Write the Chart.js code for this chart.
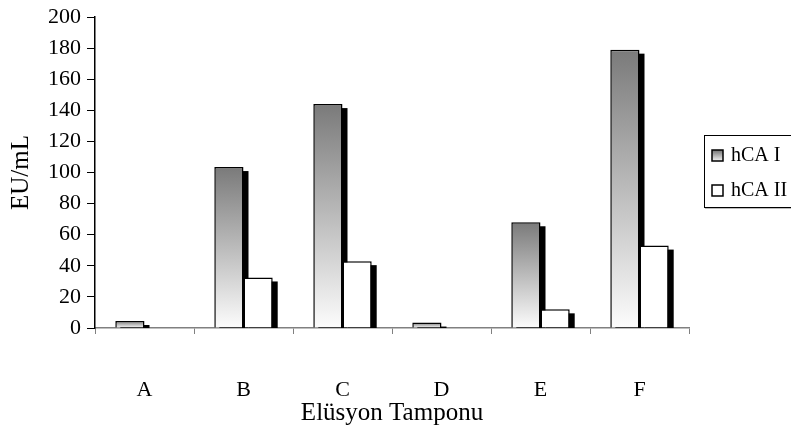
<!DOCTYPE html>
<html>
<head>
<meta charset="utf-8">
<script src="https://cdn.jsdelivr.net/npm/chart.js@4/dist/chart.umd.min.js"></script>
<style>
  html, body { margin: 0; padding: 0; background: #fff; }
  #wrap { width: 791px; height: 433px; }
</style>
</head>
<body>
<div id="wrap"><canvas id="chart"></canvas></div>
<script>
// ── data ──────────────────────────────────────────────
const categories = ['A', 'B', 'C', 'D', 'E', 'F'];
const seriesNames = ['hCA I', 'hCA II'];
const hcaI = [4.5, 103.5, 144, 3.5, 68, 179];
const hcaII = [0, 32.5, 43, 0, 12, 53];

const FONT = 'Liberation Serif';

// vertical grey-to-white gradient, one per bar
function barGradient(ctx) {
    const chart = ctx.chart;
    const y = chart.scales && chart.scales.y;
    if (!y || !chart.chartArea) return '#999';
    const top = y.getPixelForValue(ctx.raw || 0);
    const base = y.getPixelForValue(0);
    if (base - top < 1) return '#bbb';
    const g = chart.ctx.createLinearGradient(0, top, 0, base);
    g.addColorStop(0, '#7a7a7a');
    g.addColorStop(1, '#fcfcfc');
    return g;
}

// ── black drop shadow behind each bar ─────────────────
const shadowPlugin = {
    id: 'barShadow',
    beforeDatasetsDraw(chart) {
        const c = chart.ctx;
        const base = chart.scales.y.getPixelForValue(0);
        c.save();
        c.fillStyle = '#000';
        chart.data.datasets.forEach((ds, i) => {
            chart.getDatasetMeta(i).data.forEach((bar, j) => {
                if (!ds.data[j]) return;
                const p = bar.getProps(['x', 'y', 'width'], true);
                const off = 5;
                const left = p.x - p.width / 2 + off;
                const top = Math.min(p.y + off - 1, base);
                c.fillRect(left, top, p.width, base - top);
            });
        });
        c.restore();
    }
};

// ── legend box on the right ───────────────────────────
const legendPlugin = {
    id: 'boxLegend',
    afterDraw(chart) {
        const c = chart.ctx;
        const x0 = 704, y0 = 135, w = 95, h = 72;
        c.save();
        c.fillStyle = '#fff';
        c.fillRect(x0, y0, w, h);
        c.strokeStyle = '#000';
        c.lineWidth = 1;
        c.strokeRect(x0 + 0.5, y0 + 0.5, w, h);
        c.strokeStyle = '#bbb';
        c.beginPath();
        c.moveTo(x0 + 1, y0 + h + 1.5);
        c.lineTo(x0 + w, y0 + h + 1.5);
        c.stroke();
        c.font = '20px "' + FONT + '"';
        c.textBaseline = 'middle';
        seriesNames.forEach((name, i) => {
            const cy = 155 + i * 35;
            const bx = 712, by = cy - 5, bs = 11;
            if (i === 0) {
                const g = c.createLinearGradient(0, by, 0, by + bs);
                g.addColorStop(0, '#727272');
                g.addColorStop(1, '#f4f4f4');
                c.fillStyle = g;
            } else {
                c.fillStyle = '#fff';
            }
            c.fillRect(bx, by, bs, bs);
            c.strokeStyle = '#000';
            c.lineWidth = 1.5;
            c.strokeRect(bx, by, bs, bs);
            c.fillStyle = '#000';
            c.fillText(name, 731, cy + 1);
        });
        c.restore();
    }
};

new Chart(document.getElementById('chart'), {
    type: 'bar',
    data: {
        labels: categories,
        datasets: [{
            label: seriesNames[0],
            data: hcaI,
            backgroundColor: barGradient,
            borderColor: '#000',
            borderWidth: ctx => (ctx.raw ? 1.5 : 0),
            barPercentage: 1,
            categoryPercentage: 0.59
        }, {
            label: seriesNames[1],
            data: hcaII,
            backgroundColor: '#fff',
            borderColor: '#000',
            borderWidth: ctx => (ctx.raw ? 1.5 : 0),
            barPercentage: 1,
            categoryPercentage: 0.59
        }]
    },
    options: {
        responsive: true,
        maintainAspectRatio: false,
        animation: false,
        layout: { padding: { top: 13, right: 102, left: 0, bottom: 0 } },
        plugins: {
            legend: { display: false },
            tooltip: { enabled: false }
        },
        scales: {
            x: {
                grid: {
                    offset: true,
                    drawOnChartArea: false,
                    tickLength: 6,
                    tickColor: '#808080'
                },
                border: { color: '#808080', width: 1.5 },
                ticks: {
                    color: '#000',
                    padding: 43,
                    font: { family: FONT, size: 22 }
                },
                title: {
                    display: true,
                    text: 'Elüsyon Tamponu',
                    color: '#000',
                    font: { family: FONT, size: 25 },
                    padding: { top: 0, bottom: 5 }
                },
                afterFit: s => { s.height = 105; }
            },
            y: {
                min: 0,
                max: 200,
                grid: {
                    drawOnChartArea: false,
                    tickLength: 8,
                    tickColor: '#000'
                },
                border: { color: '#000', width: 1.5 },
                ticks: {
                    stepSize: 20,
                    color: '#000',
                    padding: 6,
                    font: { family: FONT, size: 22, lineHeight: 1 }
                },
                title: {
                    display: true,
                    text: 'EU/mL',
                    color: '#000',
                    font: { family: FONT, size: 25 },
                    padding: { top: 6, bottom: 0 }
                },
                afterFit: s => { s.width = 95; }
            }
        }
    },
    plugins: [shadowPlugin, legendPlugin]
});
</script>
</body>
</html>
